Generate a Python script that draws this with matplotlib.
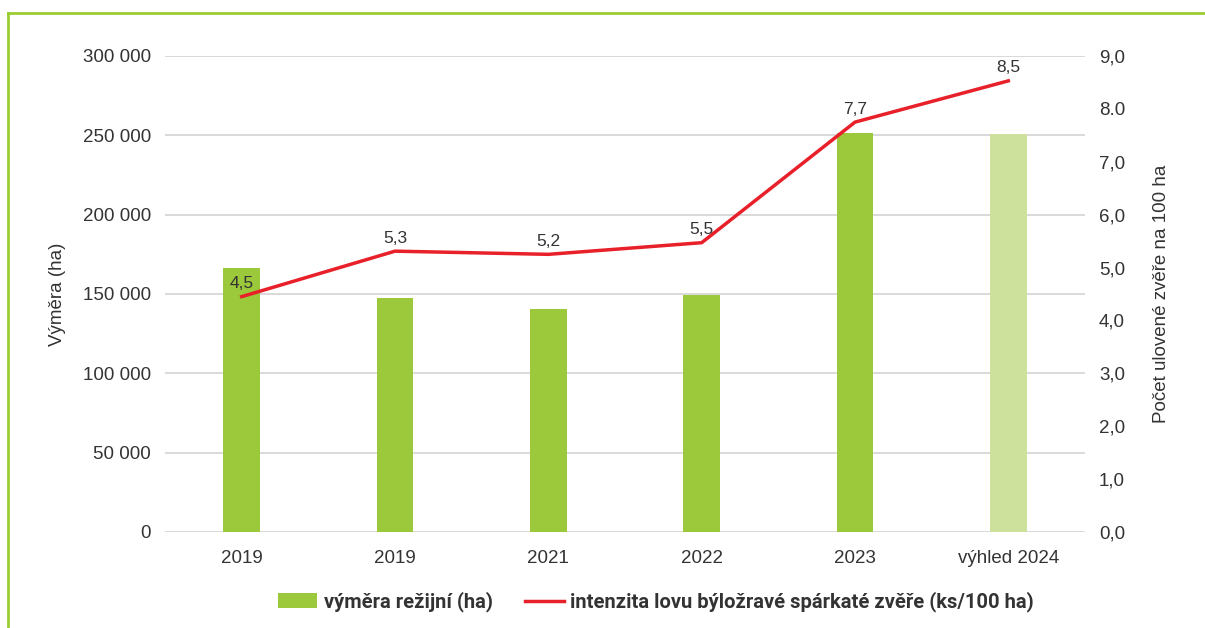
import matplotlib.pyplot as plt
from matplotlib.lines import Line2D
from matplotlib.patches import Patch

categories = ["2019", "2019", "2021", "2022", "2023", "výhled 2024"]
area_ha = [166500, 147500, 140500, 149400, 251500, 250900]
intensity = [4.45, 5.31, 5.25, 5.47, 7.75, 8.53]
intensity_labels = ["4,5", "5,3", "5,2", "5,5", "7,7", "8,5"]
left_ticks = [0, 50000, 100000, 150000, 200000, 250000, 300000]
left_tick_labels = ["0", "50 000", "100 000", "150 000", "200 000", "250 000", "300 000"]
right_ticks = [0, 1, 2, 3, 4, 5, 6, 7, 8, 9]
right_tick_labels = ["0,0", "1,0", "2,0", "3,0", "4,0", "5,0", "6,0", "7,0", "8.0", "9,0"]

GREEN = "#9BC93B"
LIGHT_GREEN = "#CDE19C"
RED = "#E8202A"
TXT = "#333333"
plt.rcParams['font.family'] = ['Liberation Sans', 'DejaVu Sans']

fig = plt.figure(figsize=(12.05, 6.28), dpi=100)
ax = fig.add_axes([165/1205, (628-532)/628, (1085-165)/1205, (532-56)/628])

x = list(range(len(categories)))
colors = [GREEN]*5 + [LIGHT_GREEN]
ax.bar(x, area_ha, width=0.24, color=colors, zorder=2)
ax.set_xlim(-0.5, len(categories)-0.5)
ax.set_ylim(0, 300000)
ax.set_yticks(left_ticks)
ax.set_yticklabels(left_tick_labels)
ax.set_xticks(x)
ax.set_xticklabels(categories)
ax.yaxis.grid(True, color="#D9D9D9", linewidth=1.4, zorder=0)
ax.set_axisbelow(True)
for s in ax.spines.values():
    s.set_visible(False)
ax.tick_params(axis='both', length=0, labelsize=13.5, colors=TXT)
ax.tick_params(axis='y', pad=10)
ax.tick_params(axis='x', pad=13)
ax.set_ylabel("Výměra (ha)", fontsize=13.5, color=TXT, labelpad=12)

ax2 = ax.twinx()
ax2.plot(x, intensity, color=RED, linewidth=2.5, zorder=3)
ax2.set_ylim(0, 9)
ax2.set_yticks(right_ticks)
ax2.set_yticklabels(right_tick_labels)
for s in ax2.spines.values():
    s.set_visible(False)
ax2.tick_params(axis='y', length=0, labelsize=13.5, colors=TXT, pad=10)
ax2.set_ylabel("Počet ulovené zvěře na 100 ha", fontsize=13.5, color=TXT, labelpad=20)
for xi, v, lab in zip(x, intensity, intensity_labels):
    ax2.annotate(lab, (xi, v), xytext=(0, 4), textcoords="offset points",
                 ha="center", va="bottom", fontsize=12.5, color=TXT)

handles = [Patch(facecolor=GREEN, edgecolor="none"),
           Line2D([0], [0], color=RED, linewidth=2.5)]
labels = ["výměra režijní (ha)", "intenzita lovu býložravé spárkaté zvěře (ks/100 ha)"]
fig.legend(handles, labels, loc="center", bbox_to_anchor=(656/1205, 1-602/628), ncol=2,
           frameon=False, prop={'family': ['Roboto', 'DejaVu Sans'],
                                'weight': 'bold', 'size': 14.5},
           handlelength=1.95, handleheight=0.75, columnspacing=1.6, handletextpad=0.3,
           labelcolor=TXT)

# green frame
fig.add_artist(Line2D([8/1205, 8/1205], [0, 1-13/628], color="#9ACD32", linewidth=2, transform=fig.transFigure))
fig.add_artist(Line2D([8/1205, 1], [1-13/628, 1-13/628], color="#9ACD32", linewidth=2, transform=fig.transFigure))

fig.savefig("out.png", dpi=100)
